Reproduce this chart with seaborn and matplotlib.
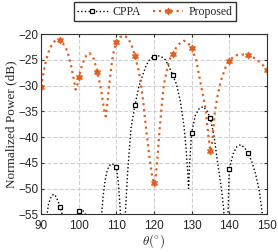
import matplotlib
matplotlib.use('Agg')
import matplotlib.pyplot as plt
import numpy as np
import pandas as pd
import seaborn as sns

sns.set_style('ticks')
plt.rcParams['font.family'] = ['Liberation Sans', 'DejaVu Sans']
plt.rcParams['mathtext.fontset'] = 'cm'

# CPPA beam pattern (values below -55 dB are clipped by the axes)
theta_cppa = [90.0, 91.0, 91.5, 92.0, 92.5, 93.0, 93.5, 94.0, 94.5, 95.0, 95.5, 96.0, 96.5,
              99.0, 99.5, 100.0, 100.5, 101.0, 101.5, 102.0, 102.5, 103.0,
              105.0, 105.6, 106.1, 106.5, 107.0, 107.5, 108.0, 108.7, 109.5, 110.0, 110.5, 111.0,
              111.3, 111.6, 112.0, 112.4, 113.0, 113.9, 115.0, 116.0, 117.0, 118.0, 119.0, 120.0,
              121.0, 122.0, 123.0, 124.0, 125.0, 126.0, 127.0, 128.0, 128.5, 129.0, 129.2, 129.5,
              130.0, 131.0, 132.0, 133.0, 134.0, 135.0, 136.0, 136.8, 137.5, 138.0, 138.5, 139.0,
              139.3, 139.6, 140.0, 141.0, 142.0, 143.0, 144.0, 145.0, 146.0, 147.0, 148.0, 148.8,
              149.3, 150.0]
db_cppa = [-70, -62, -55.5, -53.0, -51.9, -51.3, -51.1, -51.6, -52.4, -53.5, -54.7, -56.5, -62,
           -62, -55.5, -54.3, -54.1, -54.2, -54.6, -55.3, -57, -62,
           -70, -62, -55.0, -51.5, -48.5, -46.8, -45.7, -45.2, -45.4, -45.8, -48.5, -53.5,
           -58, -70, -62, -55.0, -47.0, -38.3, -33.7, -30.2, -28.0, -26.0, -24.8, -24.4,
           -24.2, -24.4, -25.0, -26.3, -28.0, -29.8, -33.0, -38.0, -42.0, -47.0, -50.0, -45.0,
           -39.2, -35.8, -34.5, -34.1, -34.8, -36.4, -40.0, -44.4, -47.9, -50.5, -53.8, -60,
           -70, -57, -46.3, -43.3, -41.9, -41.5, -42.0, -43.1, -44.8, -47.2, -50.5, -55.0,
           -62, -70]

# Proposed beam pattern
theta_prop = [90.0, 90.5, 91.0, 91.5, 92.0, 92.5, 93.0, 93.5, 94.0, 94.6, 95.0, 96.0, 97.0,
              98.0, 98.7, 99.2, 99.6, 100.0, 101.0, 102.0, 102.9, 104.0, 105.0, 106.0, 106.7,
              107.2, 107.6, 108.1, 108.9, 109.5, 110.0, 111.0, 112.0, 113.0, 114.0, 115.0,
              116.0, 116.6, 117.2, 117.8, 118.5, 119.0, 119.5, 120.0, 120.5, 121.0, 121.5,
              122.0, 122.6, 123.0, 124.0, 125.0, 126.0, 127.0, 128.0, 129.0, 130.0, 131.2,
              132.0, 132.5, 133.2, 133.8, 134.5, 135.0, 135.3, 135.6, 136.2, 137.0, 137.5,
              138.0, 139.0, 140.0, 141.0, 142.0, 143.0, 144.0, 145.0, 146.0, 147.0, 148.0,
              149.0, 150.0]
db_prop = [-30.3, -28.2, -26.2, -24.7, -23.5, -22.6, -22.0, -21.5, -21.2, -21.0, -21.1, -22.0, -23.3,
           -26.2, -28.8, -30.8, -30.0, -28.4, -25.8, -24.2, -23.7, -24.8, -27.4, -31.0, -34.5,
           -36.0, -33.5, -30.0, -25.0, -22.8, -21.6, -20.6, -20.3, -20.7, -22.0, -24.3,
           -27.3, -30.0, -33.5, -37.6, -42.0, -45.0, -47.5, -49.0, -47.5, -43.5, -38.5,
           -34.5, -30.0, -28.5, -25.2, -23.8, -22.5, -21.7, -21.3, -21.7, -22.7, -25.0,
           -28.0, -30.0, -32.5, -35.0, -40.0, -42.7, -42.0, -40.0, -35.0, -31.6, -30.0,
           -28.6, -26.5, -25.2, -24.5, -24.1, -24.0, -24.0, -24.1, -24.4, -24.8, -25.4,
           -26.1, -27.0]

orange = '#E0601F'

def every5(th):
    return [i for i, t in enumerate(th) if abs(t / 5 - round(t / 5)) < 1e-9]

df_c = pd.DataFrame({'theta': theta_cppa, 'db': db_cppa})
df_p = pd.DataFrame({'theta': theta_prop, 'db': db_prop})

fig = plt.figure(figsize=(2.78, 2.52), dpi=100)
ax = fig.add_axes([0.1475, 0.1496, 0.8125, 0.7154])

sns.lineplot(data=df_c, x='theta', y='db', ax=ax, color='black', linestyle=':', linewidth=1.0,
             marker='s', markersize=3.5, markerfacecolor='white', markeredgecolor='black',
             markeredgewidth=0.9, markevery=every5(theta_cppa), label='CPPA', sort=False)
sns.lineplot(data=df_p, x='theta', y='db', ax=ax, color=orange, linestyle=':', linewidth=1.6,
             marker=(6, 1, 0), markersize=5, markerfacecolor=orange, markeredgecolor=orange,
             markevery=every5(theta_prop), label='Proposed', sort=False)

ax.set_xlim(90, 150)
ax.set_ylim(-55, -20)
ax.set_xticks(range(90, 151, 10))
ax.set_yticks(range(-55, -19, 5))
ax.grid(True, linestyle='--', color='#d0d0d0', linewidth=0.8)
ax.tick_params(direction='in', length=2.5, labelsize=8.5, top=True, right=True,
               color='#333333')
ax.tick_params(axis='x', pad=4)
ax.tick_params(axis='y', pad=1.5)
for s in ax.spines.values():
    s.set_color('#333333')
    s.set_linewidth(0.8)

ax.set_xlabel(r'$\theta(^{\circ})$', fontsize=9.5, labelpad=0)
ax.set_ylabel('Normalized Power (dB)', fontsize=9.5, family=['Liberation Serif'], labelpad=1)

handles, labels = ax.get_legend_handles_labels()
ax.get_legend().remove()
fig.legend(handles, labels, loc='center', bbox_to_anchor=(0.556, 0.953), ncol=2,
           frameon=True, fancybox=False, edgecolor='#333333', framealpha=1,
           prop={'family': 'Liberation Serif', 'size': 8.5}, handlelength=2.6,
           handletextpad=0.4, columnspacing=1.0, borderpad=0.3)

fig.savefig('out.png', dpi=100)
